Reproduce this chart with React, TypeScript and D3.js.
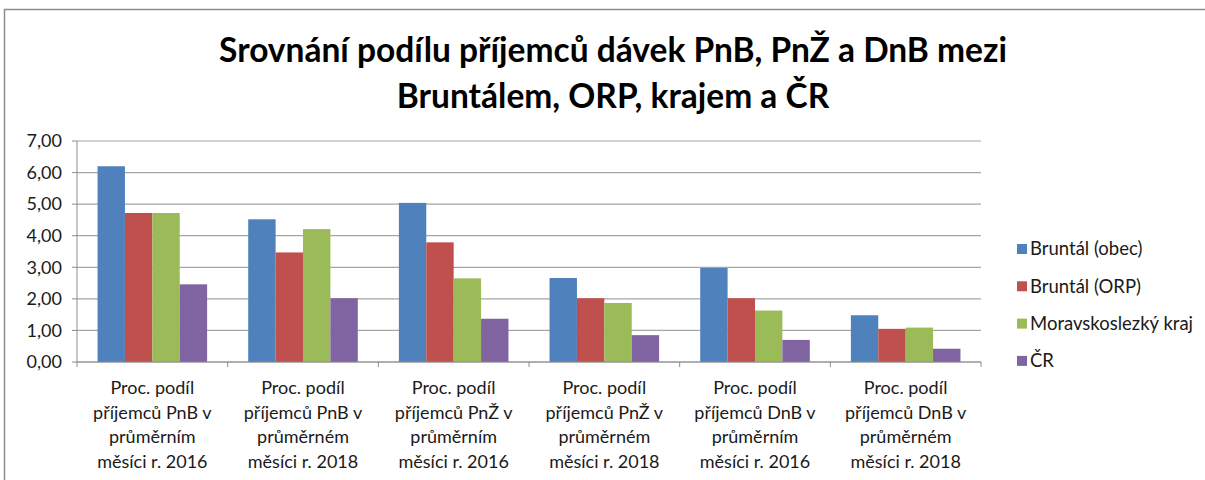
import { useMemo } from "react";
import * as d3 from "d3";

const categories = ["PnB 2016", "PnB 2018", "PnŽ 2016", "PnŽ 2018", "DnB 2016", "DnB 2018"];
const categoryLabels = [
  ["Proc. podíl", "příjemců PnB v", "průměrním", "měsíci r. 2016"],
  ["Proc. podíl", "příjemců PnB v", "průměrném", "měsíci r. 2018"],
  ["Proc. podíl", "příjemců PnŽ v", "průměrním", "měsíci r. 2016"],
  ["Proc. podíl", "příjemců PnŽ v", "průměrném", "měsíci r. 2018"],
  ["Proc. podíl", "příjemců DnB v", "průměrním", "měsíci r. 2016"],
  ["Proc. podíl", "příjemců DnB v", "průměrném", "měsíci r. 2018"],
];
const seriesNames = ["Bruntál (obec)", "Bruntál (ORP)", "Moravskoslezký kraj", "ČR"];
const bruntalObec = [6.2, 4.52, 5.04, 2.66, 2.98, 1.48];
const bruntalOrp = [4.72, 3.47, 3.79, 2.02, 2.02, 1.05];
const msKraj = [4.72, 4.21, 2.65, 1.87, 1.63, 1.09];
const cr = [2.46, 2.02, 1.37, 0.85, 0.7, 0.42];
const yTicks = [0, 1, 2, 3, 4, 5, 6, 7];
const titleLines = ["Srovnání podílu příjemců dávek PnB, PnŽ a DnB mezi", "Bruntálem, ORP, krajem a ČR"];

const colors = ["#4F81BD", "#C0504D", "#9BBB59", "#8064A2"];
const font = "Lato, 'Open Sans', sans-serif";

export default function App() {
  const width = 1205;
  const height = 480;
  const margin = { top: 141, right: 224, bottom: 118, left: 77 };
  const series = [bruntalObec, bruntalOrp, msKraj, cr];

  const x0 = useMemo(
    () => d3.scaleBand().domain(categories).range([margin.left, width - margin.right]).padding(0),
    []
  );
  const bw = x0.bandwidth();
  // excel style gap width 150%
  const barW = bw / 5.5;
  const x1 = d3.scaleBand().domain(seriesNames).range([barW * 0.75, bw - barW * 0.75]).padding(0);
  const y = d3.scaleLinear().domain([0, 7]).range([height - margin.bottom, margin.top]);
  const fmt = (v: number) => d3.format(".2f")(v).replace(".", ",");

  const plotRight = width - margin.right;
  const base = y(0);

  return (
    <svg width={width} height={height} style={{ position: "absolute", left: 0, top: 0, background: "#fff" }}>
      <rect x={4.5} y={9.5} width={width} height={height} fill="#fff" stroke="#8c8c8c" strokeWidth={1.5} />

      {titleLines.map((t, i) => (
        <text
          key={i}
          x={613}
          y={62 + i * 46}
          textAnchor="middle"
          fontFamily={font}
          fontWeight="bold"
          fontSize={33.5}
          fill="#000"
        >
          {t}
        </text>
      ))}

      {/* gridlines */}
      {yTicks.map((t) => (
        <line key={t} x1={margin.left} x2={plotRight} y1={y(t)} y2={y(t)} stroke="#a6a6a6" strokeWidth={1.2} />
      ))}

      {/* bars */}
      {series.map((vals, si) =>
        vals.map((v, ci) => (
          <rect
            key={`${si}-${ci}`}
            x={(x0(categories[ci]) ?? 0) + (x1(seriesNames[si]) ?? 0)}
            y={y(v)}
            width={x1.bandwidth()}
            height={base - y(v)}
            fill={colors[si]}
          />
        ))
      )}

      {/* axes */}
      <line x1={margin.left} x2={margin.left} y1={margin.top} y2={base} stroke="#8c8c8c" />
      <line x1={margin.left} x2={plotRight} y1={base} y2={base} stroke="#8c8c8c" />
      {yTicks.map((t) => (
        <g key={t}>
          <line x1={margin.left - 5} x2={margin.left} y1={y(t)} y2={y(t)} stroke="#8c8c8c" />
          <text
            x={62}
            y={y(t)}
            dy="0.35em"
            textAnchor="end"
            fontFamily={font}
            fontSize={18}
            fill="#1a1a1a"
          >
            {fmt(t)}
          </text>
        </g>
      ))}
      {[...categories.map((c) => x0(c) ?? 0), plotRight].map((bx, i) => (
        <line key={i} x1={bx} x2={bx} y1={base} y2={base + 5} stroke="#8c8c8c" />
      ))}
      {categories.map((c, ci) => (
        <text
          key={c}
          textAnchor="middle"
          fontFamily={font}
          fontSize={18}
          fill="#1a1a1a"
        >
          {categoryLabels[ci].map((line, li) => (
            <tspan key={li} x={(x0(c) ?? 0) + bw / 2} y={394 + li * 24.5}>
              {line}
            </tspan>
          ))}
        </text>
      ))}

      {/* legend */}
      {seriesNames.map((s, i) => (
        <g key={s} transform={`translate(1017, ${249 + i * 37.3})`}>
          <rect x={0} y={-5} width={10} height={10} fill={colors[i]} />
          <text x={13} y={0} dy="0.35em" fontFamily={font} fontSize={18.5} fill="#1a1a1a">
            {s}
          </text>
        </g>
      ))}
    </svg>
  );
}
